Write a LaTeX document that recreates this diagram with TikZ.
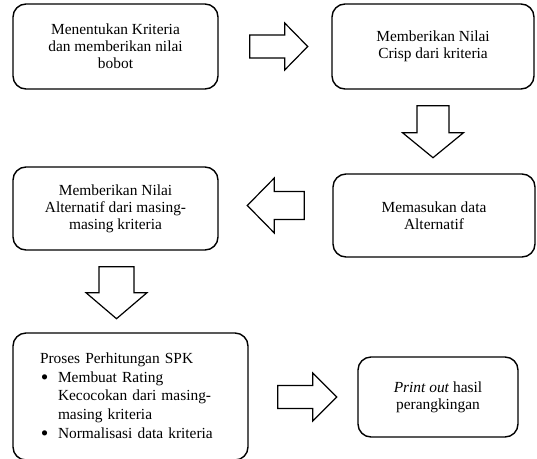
\documentclass[tikz,border=0pt]{standalone}
\usepackage{fontspec}
\setmainfont{Liberation Serif}
\usetikzlibrary{calc}

% hollow block arrow: tail centre, direction, length, shaft width, head width, head length
\newcommand{\blockarrow}[6]{%
  \begin{scope}[shift={#1}, rotate=#2]
    \draw[arrowshape] (0,{#4/2}) -- ({#3-#6},{#4/2}) -- ({#3-#6},{#5/2}) -- (#3,0)
      -- ({#3-#6},{-#5/2}) -- ({#3-#6},{-#4/2}) -- (0,{-#4/2}) -- cycle;
  \end{scope}}

% list bullet, a little larger than the text bullet
\newcommand{\listdot}{\hspace*{1pt}\makebox[17pt][l]{\raisebox{-2.2pt}{\scalebox{1.4}{\textbullet}}}}

\tikzset{
  stepbox/.style={draw, line width=1.4pt, rounded corners=13pt, align=center,
    font=\fontsize{15.4}{17}\selectfont, inner sep=4pt},
  arrowshape/.style={draw, line width=1.2pt, fill=white, line join=miter}
}

\begin{document}
\begin{tikzpicture}[x=1pt, y=-1pt]
  \useasboundingbox (0,0) rectangle (537,458);

  \node[stepbox, minimum width=205pt, minimum height=85pt] (b1) at (115.5,46.5)
    {Menentukan Kriteria\\dan memberikan nilai\\bobot};
  \node[stepbox, minimum width=202pt, minimum height=85pt] (b2) at (433,46.5)
    {Memberikan Nilai\\Crisp dari kriteria};
  \node[stepbox, minimum width=202pt, minimum height=83pt] (b3) at (434,215.5)
    {Memasukan data\\Alternatif};
  \node[stepbox, minimum width=205pt, minimum height=83pt] (b4) at (115.5,208.5)
    {Memberikan Nilai\\Alternatif dari masing-\\masing kriteria};
  \node[stepbox, minimum width=235pt, minimum height=127pt, text width=181pt,
        inner xsep=27pt, align=left, font=\fontsize{15.4}{18.7}\selectfont] (b5) at (130.5,396.5)
    {Proses Perhitungan SPK\\
     \listdot Membuat Rating\\
     \hspace*{18pt}Kecocokan dari masing-\\
     \hspace*{18pt}masing kriteria\\
     \listdot Normalisasi data kriteria};
  \node[stepbox, minimum width=160pt, minimum height=80pt] (b6) at (438,397)
    {\textit{Print out} hasil\\perangkingan};

  % block arrows between the steps
  \blockarrow{($(b1.east)+(31,0)$)}{0}{58}{23}{47}{23}
  \blockarrow{($(b2.south)+(0,16)$)}{-90}{52}{32}{61}{25}
  \blockarrow{($(b3.west)+(-28,-10)$)}{180}{57}{28}{55}{27}
  \blockarrow{($(b4.south)+(1,16)$)}{-90}{52}{35}{61}{26}
  \blockarrow{($(b5.east)+(29,0.5)$)}{0}{59}{23}{48}{24}
\end{tikzpicture}
\end{document}
